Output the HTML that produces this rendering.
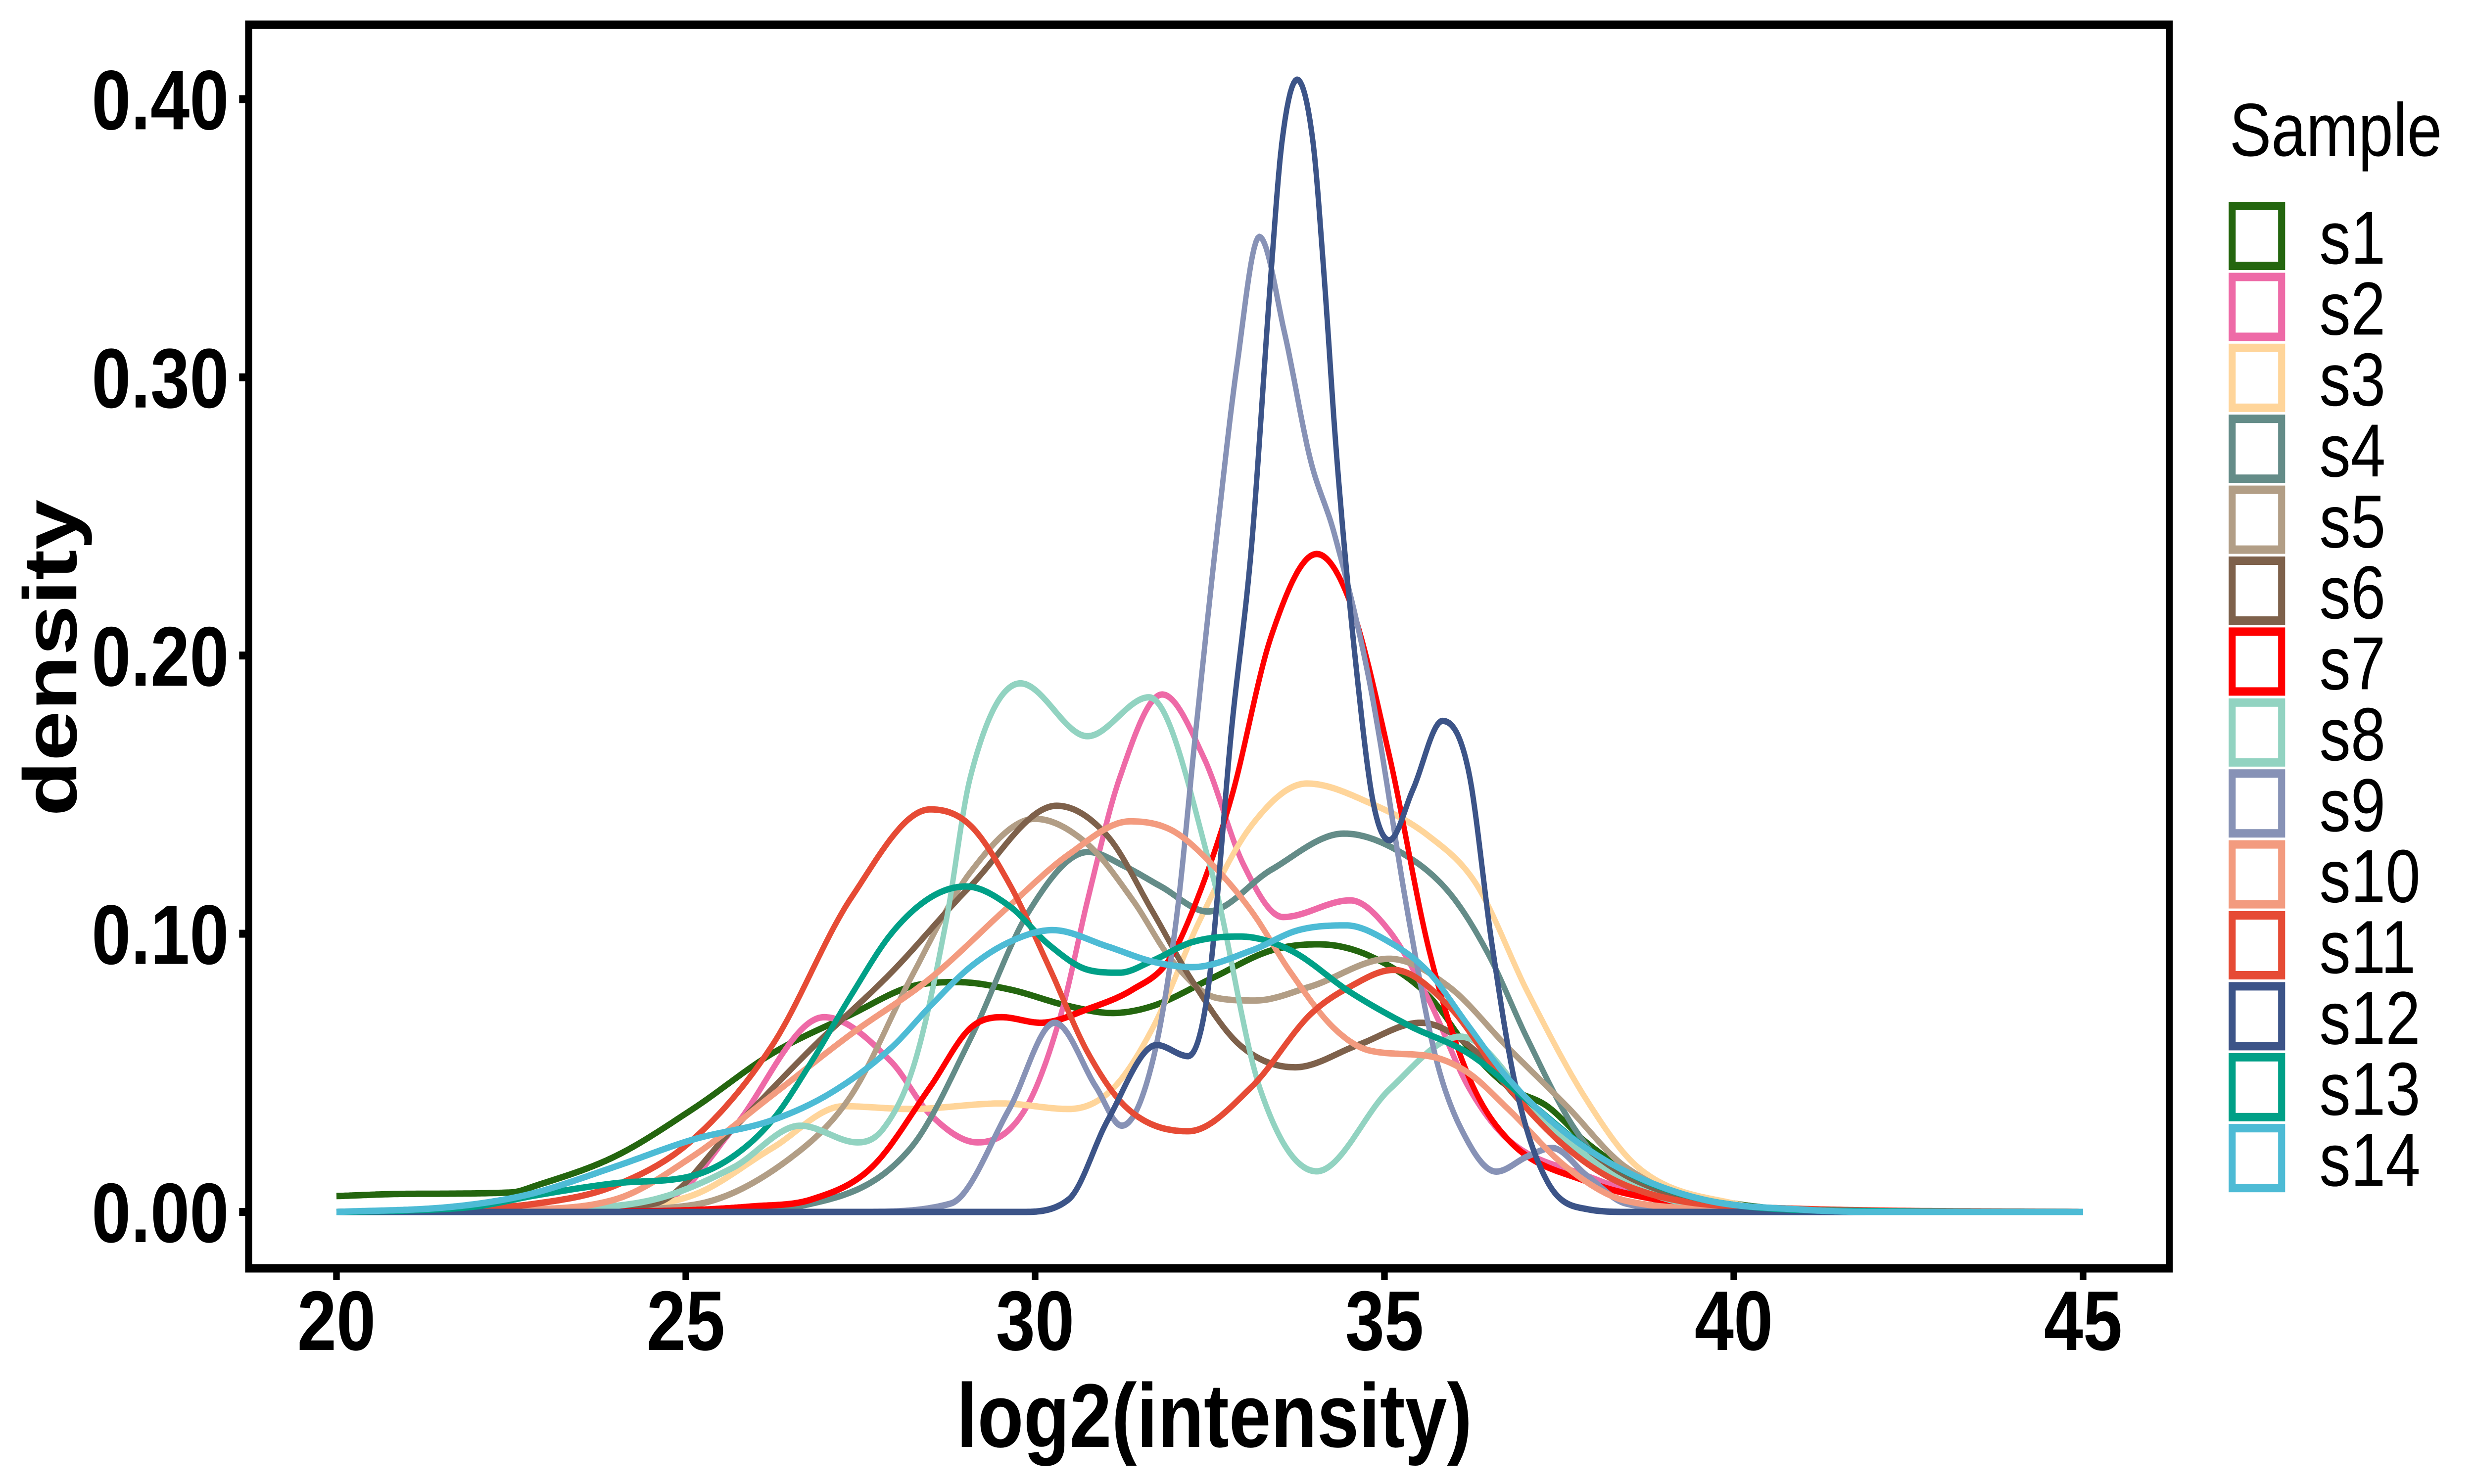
<!DOCTYPE html>
<html><head><meta charset="utf-8"><style>
html,body{margin:0;padding:0;background:#fff;overflow:hidden;width:100%;height:100%;}
svg{display:block;position:absolute;left:0;top:0;width:100vw;height:100vh;}
text{font-family:"Liberation Sans",Arial,sans-serif;}
</style></head><body>
<svg id="chart" viewBox="0 0 6000 3000" preserveAspectRatio="none" xmlns="http://www.w3.org/2000/svg">
<rect x="0" y="0" width="6000" height="3000" fill="#fff"/>
<g id="curves"></g>
<rect x="603" y="50" width="4658" height="2514" fill="none" stroke="#000" stroke-width="17"/>
<g id="axes"></g>
<text x="0" y="0" transform="translate(185,1330) rotate(-90)" text-anchor="middle" font-size="183" font-weight="bold">density</text>
<text x="2945" y="2925" text-anchor="middle" font-size="183" font-weight="bold">log2(intensity)</text>
<text x="5407" y="315" font-size="152">Sample</text>
<g id="legend"></g>
</svg>
<script>
const names = ["s1","s2","s3","s4","s5","s6","s7","s8","s9","s10","s11","s12","s13","s14"];
const colors = ["#24660F","#EE6AA7","#FFD59A","#648C88","#B29E86","#7E614B","#FF0000","#92D3C1","#8792B6","#F39B7F","#E64B35","#3C5488","#00A087","#4DBBD5"];
const xTicks = [20,25,30,35,40,45];
const yTicks = [0,0.1,0.2,0.3,0.4];
const yTickLabels = ["0.00","0.10","0.20","0.30","0.40"];

const s1X = [20,21,22.5,22.86,23.99,25.1,26.24,27.37,28.22,28.9,29.63,30.48,31.1,31.68,32.53,33.38,34.05,34.79,35.64,36.2,36.77,37.33,37.89,38.74,40,41.5,45];
const s1Y = [0.0057,0.0065,0.007,0.0095,0.020,0.037,0.057,0.071,0.081,0.0826,0.080,0.074,0.0715,0.074,0.084,0.094,0.0962,0.092,0.0775,0.059,0.045,0.038,0.025,0.011,0.003,0.0003,0];
const s2X = [20,23.5,24.83,25.68,26.98,27.94,28.5,29.18,29.86,30.37,30.76,31.21,31.82,32.42,32.98,33.55,34.51,35.07,35.64,36.2,36.77,37.89,39,40.5,45];
const s2Y = [0,0.001,0.006,0.030,0.070,0.054,0.035,0.025,0.037,0.071,0.113,0.156,0.186,0.163,0.125,0.106,0.112,0.101,0.076,0.045,0.026,0.013,0.004,0,0];
const s3X = [20,23.5,25.1,26.24,27.26,28.22,29.52,30.48,31.1,31.68,32.36,33.1,33.89,34.79,35.64,36.31,37.05,37.9,38.63,40,41.5,45];
const s3Y = [0,0.001,0.006,0.023,0.038,0.037,0.039,0.037,0.044,0.066,0.105,0.139,0.154,0.147,0.135,0.118,0.079,0.040,0.016,0.003,0,0];
const s4X = [20,25.5,26.8,28.22,29.07,29.91,30.76,31.3,31.8,32.47,33.38,34.42,35.18,35.92,36.48,37.05,37.72,38.46,40,45];
const s4Y = [0,0.0005,0.003,0.023,0.062,0.108,0.1294,0.124,0.117,0.108,0.123,0.136,0.130,0.115,0.093,0.062,0.030,0.0095,0.001,0];
const s5X = [20,23.5,25.1,26.53,27.37,28.22,29.07,30.0,30.76,31.4,31.97,32.59,33.15,33.94,35.07,35.92,36.77,37.61,38.46,40,45];
const s5Y = [0,0.0005,0.0025,0.020,0.042,0.084,0.122,0.1413,0.132,0.112,0.090,0.077,0.076,0.081,0.091,0.081,0.059,0.038,0.016,0.002,0];
const s6X = [20,23,24.55,25.68,26.81,27.94,29.07,30.31,31.04,31.68,32.25,32.93,33.72,34.62,35.52,36.2,37.05,37.9,39.5,41,45];
const s6Y = [0,0.0005,0.003,0.030,0.059,0.086,0.117,0.146,0.135,0.108,0.083,0.060,0.052,0.060,0.068,0.060,0.037,0.020,0.003,0,0];
const s7X = [20,24.5,25.96,26.8,27.66,28.5,29.07,29.52,30.08,30.76,31.4,31.9,32.25,32.81,33.38,34.03,34.51,35.07,35.64,36.2,36.77,37.89,39,40.5,45];
const s7Y = [0,0.0003,0.002,0.0045,0.016,0.045,0.066,0.070,0.068,0.073,0.080,0.090,0.108,0.149,0.207,0.2365,0.219,0.164,0.094,0.049,0.026,0.011,0.004,0,0];
const s8X = [20,23,24.55,25.68,26.64,27.46,27.83,28.28,28.73,29.07,29.79,30.75,31.63,32.53,33.21,34.03,35.07,36.09,37.33,38.5,40,45];
const s8Y = [0,0.001,0.0045,0.016,0.031,0.025,0.030,0.054,0.105,0.156,0.190,0.171,0.185,0.122,0.045,0.0146,0.044,0.063,0.032,0.010,0.001,0];
const s9X = [20,27.5,28.79,29.63,30.28,30.87,31.24,31.68,32.02,32.3,32.62,32.89,33.21,33.57,33.94,34.28,34.79,35.35,35.75,36.2,36.6,37.05,37.4,37.9,38.46,40,45];
const s9Y = [0,0,0.003,0.037,0.068,0.045,0.031,0.054,0.105,0.173,0.2477,0.3044,0.3505,0.316,0.2704,0.244,0.190,0.105,0.054,0.025,0.0145,0.020,0.023,0.013,0.003,0,0];
const s10X = [20,22.5,23.99,25.1,26.24,27.37,28.5,29.63,30.48,31.36,31.97,32.53,33.1,33.66,34.28,34.79,35.64,36.2,36.77,37.61,38.46,40,45];
const s10Y = [0,0.0008,0.0045,0.020,0.042,0.064,0.084,0.110,0.1285,0.1404,0.137,0.125,0.108,0.086,0.066,0.058,0.056,0.050,0.037,0.016,0.004,0.001,0];
const s11X = [20,21.5,22.86,23.99,25.1,26.24,27.37,28.5,29.07,29.63,30.2,30.76,31.33,32.19,33.1,33.94,34.51,35.13,35.92,36.77,37.61,38.46,40,45];
const s11Y = [0,0.0008,0.003,0.0095,0.026,0.060,0.113,0.1447,0.139,0.118,0.088,0.057,0.037,0.029,0.045,0.071,0.081,0.087,0.074,0.045,0.023,0.0095,0.002,0];
const s12X = [20,29.8,30.48,31.04,31.74,32.19,32.47,32.81,33.1,33.38,33.53,33.75,33.98,34.13,34.32,34.62,34.84,35.07,35.41,35.83,36.2,36.54,36.88,37.33,37.9,38.5,45];
const s12Y = [0,0,0.0045,0.033,0.060,0.056,0.079,0.173,0.240,0.3386,0.384,0.407,0.384,0.3386,0.2704,0.190,0.147,0.1336,0.152,0.1765,0.159,0.096,0.045,0.011,0.001,0,0];
const s13X = [20,21,22,22.86,23.99,25.1,25.68,26.24,26.8,27.37,27.94,28.5,29.01,29.63,30.2,30.76,31.21,31.68,32.25,32.93,33.66,34.51,35.35,36.2,37.05,37.89,38.74,39.87,42,45];
const s13Y = [0,0.0005,0.002,0.006,0.0103,0.013,0.020,0.033,0.054,0.078,0.100,0.113,0.117,0.110,0.096,0.087,0.086,0.0903,0.097,0.099,0.094,0.079,0.067,0.057,0.040,0.023,0.011,0.003,0.0003,0];
const s14X = [20,21.5,22.3,22.86,23.99,25.1,26.24,27.09,27.94,28.5,29.07,29.63,30.25,31.04,31.68,32.25,33.1,33.77,34.45,35.07,35.64,36.2,36.77,37.61,38.46,39.59,41,42,45];
const s14Y = [0,0.0015,0.004,0.007,0.0163,0.026,0.033,0.043,0.059,0.074,0.088,0.097,0.1013,0.0954,0.090,0.088,0.094,0.1013,0.103,0.097,0.086,0.067,0.048,0.028,0.0145,0.0043,0.0008,0,0];

const seriesX = [s1X,s2X,s3X,s4X,s5X,s6X,s7X,s8X,s9X,s10X,s11X,s12X,s13X,s14X];
const seriesY = [s1Y,s2Y,s3Y,s4Y,s5Y,s6Y,s7Y,s8Y,s9Y,s10Y,s11Y,s12Y,s13Y,s14Y];

const NS = "http://www.w3.org/2000/svg";
function xScale(v){ return 816 + (v - 20) * 169.44; }
function yScale(v){ return 2450 - v * 5624; }

function monotone(xs, ys){
  const n = xs.length, d = [], m = new Array(n);
  for (let i=0;i<n-1;i++) d.push((ys[i+1]-ys[i])/(xs[i+1]-xs[i]));
  m[0]=d[0]; m[n-1]=d[n-2];
  for (let i=1;i<n-1;i++){ m[i] = (d[i-1]*d[i] <= 0) ? 0 : (d[i-1]+d[i])/2; }
  for (let i=0;i<n-1;i++){
    if (d[i]===0){ m[i]=0; m[i+1]=0; continue; }
    const a=m[i]/d[i], b=m[i+1]/d[i], s=a*a+b*b;
    if (s>9){ const t=3/Math.sqrt(s); m[i]=t*a*d[i]; m[i+1]=t*b*d[i]; }
  }
  const pts=[];
  for (let i=0;i<n-1;i++){
    const h=xs[i+1]-xs[i], steps=Math.max(2,Math.ceil(h*40));
    for (let k=0;k<steps;k++){
      const t=k/steps, t2=t*t, t3=t2*t;
      const y=(2*t3-3*t2+1)*ys[i]+(t3-2*t2+t)*h*m[i]+(-2*t3+3*t2)*ys[i+1]+(t3-t2)*h*m[i+1];
      pts.push([xs[i]+t*h, Math.max(0,y)]);
    }
  }
  pts.push([xs[n-1], ys[n-1]]);
  return pts;
}

const curves = document.getElementById('curves');
seriesX.forEach((xs, i) => {
  const pts = monotone(xs, seriesY[i]);
  const p = document.createElementNS(NS, 'polyline');
  p.setAttribute('points', pts.map(q => xScale(q[0]).toFixed(1)+','+yScale(q[1]).toFixed(1)).join(' '));
  p.setAttribute('fill','none');
  p.setAttribute('stroke', colors[i]);
  p.setAttribute('stroke-width','13');
  p.setAttribute('stroke-linejoin','round');
  
  
  curves.appendChild(p);
});

const axes = document.getElementById('axes');
const xl = document.createElementNS(NS,'line');
xl.setAttribute('x1','595'); xl.setAttribute('x2','5265');
xl.setAttribute('y1','2564'); xl.setAttribute('y2','2564');
xl.setAttribute('stroke','#000'); xl.setAttribute('stroke-width','17');


axes.appendChild(xl);

xTicks.forEach(v => {
  const t = document.createElementNS(NS,'line');
  t.setAttribute('x1', xScale(v)); t.setAttribute('x2', xScale(v));
  t.setAttribute('y1','2572'); t.setAttribute('y2','2588');
  t.setAttribute('stroke','#000'); t.setAttribute('stroke-width','16');
  
  
  axes.appendChild(t);
  const l = document.createElementNS(NS,'text');
  l.setAttribute('x', xScale(v)); l.setAttribute('y','2729');
  l.setAttribute('text-anchor','middle'); l.setAttribute('font-size','171'); l.setAttribute('font-weight','bold');
  l.textContent = String(v);
  
  
  axes.appendChild(l);
});
yTicks.forEach((v, i) => {
  const t = document.createElementNS(NS,'line');
  t.setAttribute('x1','580'); t.setAttribute('x2','596');
  t.setAttribute('y1', yScale(v)); t.setAttribute('y2', yScale(v));
  t.setAttribute('stroke','#000'); t.setAttribute('stroke-width','16');
  
  
  axes.appendChild(t);
  const l = document.createElementNS(NS,'text');
  l.setAttribute('x','555'); l.setAttribute('y', yScale(v) + 61);
  l.setAttribute('text-anchor','end'); l.setAttribute('font-size','171'); l.setAttribute('font-weight','bold');
  l.textContent = yTickLabels[i];
  
  
  axes.appendChild(l);
});

const legend = document.getElementById('legend');
names.forEach((nm, i) => {
  const top = 408 + i * 143.4;
  const r = document.createElementNS(NS,'rect');
  r.setAttribute('x','5413.5'); r.setAttribute('y', top + 8.5);
  r.setAttribute('width','120'); r.setAttribute('height','121');
  r.setAttribute('fill','#fff'); r.setAttribute('stroke', colors[i]); r.setAttribute('stroke-width','17');
  
  
  legend.appendChild(r);
  const l = document.createElementNS(NS,'text');
  l.setAttribute('x','5625'); l.setAttribute('y', top + 125);
  l.setAttribute('font-size','152');
  l.textContent = nm;
  
  
  legend.appendChild(l);
});
</script>
</body></html>
